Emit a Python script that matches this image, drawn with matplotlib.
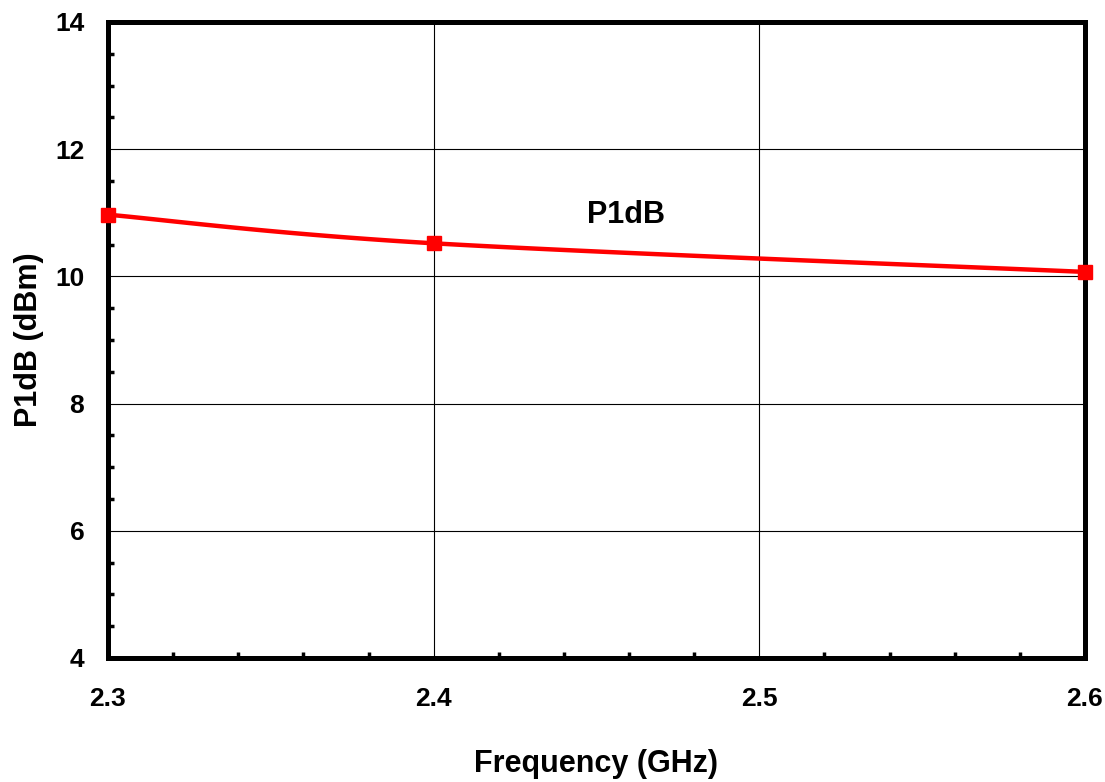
import numpy as np
import matplotlib
matplotlib.use("Agg")
import matplotlib.pyplot as plt
from matplotlib.ticker import MultipleLocator

# measured points (GHz, dBm)
freq = [2.3, 2.4, 2.6]
p1db = [10.97, 10.52, 10.07]

xticks = [2.3, 2.4, 2.5, 2.6]
yticks = [4, 6, 8, 10, 12, 14]


def smooth_curve(x, y, n=60):
    # Excel-like smoothed line: cubic bezier through the points
    p = np.column_stack([x, y]).astype(float)
    pts = []
    for i in range(len(p) - 1):
        p0 = p[i - 1] if i > 0 else p[i]
        p1 = p[i]
        p2 = p[i + 1]
        p3 = p[i + 2] if i + 2 < len(p) else p[i + 1]
        c1 = p1 + (p2 - p0) / 6
        c2 = p2 - (p3 - p1) / 6
        t = np.linspace(0, 1, n)[:, None]
        seg = ((1 - t) ** 3) * p1 + 3 * ((1 - t) ** 2) * t * c1 \
            + 3 * (1 - t) * t ** 2 * c2 + t ** 3 * p2
        pts.append(seg)
    pts = np.vstack(pts)
    return pts[:, 0], pts[:, 1]


plt.rcParams['font.family'] = ['Liberation Sans', 'DejaVu Sans']
plt.rcParams['font.weight'] = 'bold'

fig = plt.figure(figsize=(11.05, 7.82), dpi=100)
ax = fig.add_axes([0.0977, 0.1586, 0.8842, 0.8133])

sx, sy = smooth_curve(freq, p1db)
ax.plot(sx, sy, color='#ff0000', lw=3.2, solid_capstyle='butt', zorder=3, clip_on=False)
ax.plot(freq, p1db, ls='none', marker='s', ms=10.5, color='#ff0000', zorder=6, clip_on=False)

ax.text(2.459, 10.97, 'P1dB', fontsize=22, fontweight='bold', ha='center', va='center')

ax.set_xlim(2.3, 2.6)
ax.set_ylim(4, 14)
ax.set_xticks(xticks)
ax.set_yticks(yticks)
ax.set_xticklabels([f'{v:.1f}' for v in xticks])
ax.xaxis.set_minor_locator(MultipleLocator(0.02))
ax.yaxis.set_minor_locator(MultipleLocator(0.5))

ax.grid(True, which='major', color='black', lw=0.8)
ax.tick_params(which='major', length=0, labelsize=19, pad=17)
ax.tick_params(axis='x', which='major', pad=21)
ax.tick_params(which='minor', direction='in', length=4, width=2.5, color='black')
ax.tick_params(axis='x', which='minor', top=False)
ax.tick_params(axis='y', which='minor', right=False)

for s in ax.spines.values():
    s.set_linewidth(3.6)
    s.set_zorder(5)

ax.set_xlabel('Frequency (GHz)', fontsize=22, fontweight='bold', labelpad=27)
ax.set_ylabel('P1dB (dBm)', fontsize=22, fontweight='bold', labelpad=8)

fig.savefig('out.png', dpi=100)
